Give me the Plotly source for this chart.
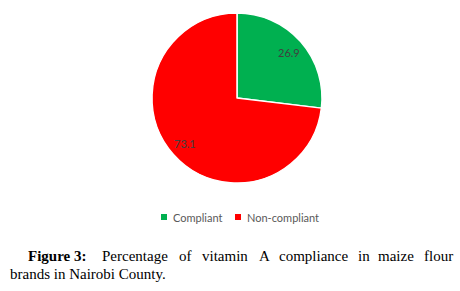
import math
import plotly.graph_objects as go

labels = ["Compliant", "Non-compliant"]
values = [26.9, 73.1]
colors = ["#00B050", "#FF0000"]

caption_line1 = ["Percentage", "of", "vitamin", "A", "compliance", "in", "maize", "flour"]
caption_line1_x = [100, 177, 200, 257, 277, 356, 376, 422]
caption_line2 = "brands in Nairobi County."

W, H = 460, 291
cx, cy, r = 237, 98, 85
label_frac = 0.81

fig = go.Figure()
fig.add_trace(go.Pie(
    labels=labels, values=values, sort=False, direction="clockwise", rotation=0,
    marker=dict(colors=colors, line=dict(color="white", width=1.5)),
    textinfo="none",
    domain=dict(x=[(cx - r) / W, (cx + r) / W], y=[1 - (cy + r) / H, 1 - (cy - r) / H]),
    hoverinfo="label+value", showlegend=False,
))

ann = []
# data labels placed along each slice's mid-angle
total = sum(values)
cum = 0.0
for v in values:
    mid = (cum + v / 2) / total * 2 * math.pi
    cum += v
    px = cx + label_frac * r * math.sin(mid)
    py = cy - label_frac * r * math.cos(mid)
    ann.append(dict(x=px / W, y=1 - py / H, xref="paper", yref="paper",
                    xanchor="center", yanchor="middle", text=f"{v:.1f}", showarrow=False,
                    font=dict(family="Lato", size=11, color="#404040")))

# legend
leg_y = 217
leg_sq_x = [161, 235]
for lab, col, sx in zip(labels, colors, leg_sq_x):
    fig.add_shape(type="rect", xref="paper", yref="paper",
                  x0=sx / W, x1=(sx + 6) / W, y0=1 - (leg_y + 3) / H, y1=1 - (leg_y - 3) / H,
                  fillcolor=col, line=dict(width=0))
    ann.append(dict(x=(sx + 9.5) / W, y=1 - leg_y / H, xref="paper", yref="paper",
                    xanchor="left", yanchor="middle", text=lab, showarrow=False,
                    font=dict(family="Lato", size=11, color="#595959")))

serif = dict(family="Liberation Serif", size=15, color="black")
cap = dict(xref="paper", yref="paper", xanchor="left", yanchor="middle", showarrow=False,
           font=serif)
line1_y, line2_y = 256, 274
ann.append(dict(x=26 / W, y=1 - line1_y / H, text="<b>Figure 3:</b>", **cap))
for w, x in zip(caption_line1, caption_line1_x):
    ann.append(dict(x=x / W, y=1 - line1_y / H, text=w, **cap))
ann.append(dict(x=8 / W, y=1 - line2_y / H, text=caption_line2, **cap))

fig.update_layout(
    width=W, height=H, margin=dict(l=0, r=0, t=0, b=0),
    paper_bgcolor="white", plot_bgcolor="white",
    showlegend=False,
    annotations=ann,
)
fig.write_html("out.html", config={"displayModeBar": False},
               post_script="document.body.style.margin='0';")
